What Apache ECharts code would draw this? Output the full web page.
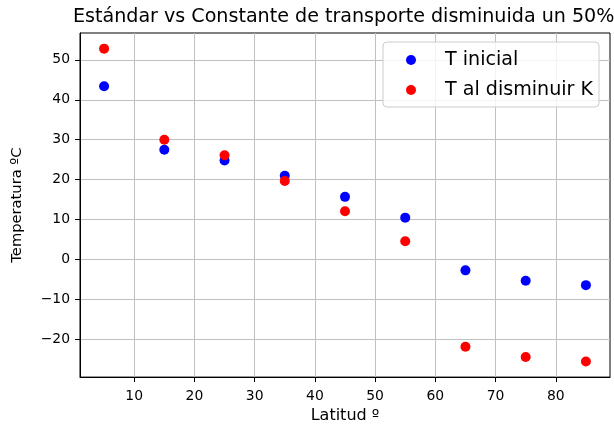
<!DOCTYPE html>
<html>
<head>
<meta charset="utf-8">
<script src="https://cdn.jsdelivr.net/npm/echarts@6/dist/echarts.min.js"></script>
<style>
html,body{margin:0;padding:0;background:#fff;}
#chart{width:614px;height:429px;}
</style>
</head>
<body>
<div id="chart"></div>
<script>
var latitudes = [5, 15, 25, 35, 45, 55, 65, 75, 85];
var tInicial = [43.4, 27.5, 24.8, 21.0, 15.7, 10.5, -2.7, -5.3, -6.4];
var tDisminuido = [52.8, 30.0, 26.1, 19.7, 12.1, 4.6, -21.8, -24.4, -25.5];
var xTicks = [10, 20, 30, 40, 50, 60, 70, 80];
var yTicks = [-20, -10, 0, 10, 20, 30, 40, 50];
var seriesNames = ['T inicial', 'T al disminuir K'];
var titleText = 'Estándar vs Constante de transporte disminuida un 50%';

function pad(arr) {
  var mn = Math.min.apply(null, arr), mx = Math.max.apply(null, arr);
  var m = (mx - mn) * 0.05;
  return [mn - m, mx + m];
}
var xr = pad(latitudes);
var yr = pad(tInicial.concat(tDisminuido));

function pairs(xs, ys) { return xs.map(function (x, i) { return [x, ys[i]]; }); }

var FONT = 'DejaVu Sans';
var chart = echarts.init(document.getElementById('chart'), null, {renderer: 'canvas'});
chart.setOption({
  animation: false,
  textStyle: {fontFamily: FONT},
  title: {
    text: titleText,
    left: 68,
    top: 3,
    padding: [5, 5, 5, 5],
    textStyle: {fontFamily: FONT, fontSize: 19.1, fontWeight: 'normal', color: '#000'}
  },
  grid: {left: 80, right: 4, top: 33, bottom: 51, show: true, borderColor: '#000', borderWidth: 1, backgroundColor: 'transparent'},
  legend: {
    orient: 'vertical',
    left: 383,
    top: 42,
    padding: [7, 6, 6, 23],
    itemGap: 8,
    itemWidth: 10,
    itemHeight: 10,
    icon: 'circle',
    backgroundColor: 'rgba(255,255,255,0.8)',
    borderColor: '#cccccc',
    borderWidth: 1,
    borderRadius: 4,
    formatter: function (name) { return '{g|}{n|' + name + '}'; },
    textStyle: {
      fontFamily: FONT, fontSize: 19.1, color: '#000', lineHeight: 22,
      rich: {
        g: {width: 24, height: 22},
        n: {fontFamily: FONT, fontSize: 19.1, color: '#000', lineHeight: 22}
      }
    },
    data: seriesNames
  },
  xAxis: {
    type: 'value',
    min: xr[0], max: xr[1],
    name: 'Latitud º',
    nameLocation: 'middle',
    nameGap: 30,
    nameTextStyle: {fontFamily: FONT, fontSize: 16, color: '#000'},
    axisLine: {show: true, onZero: false, lineStyle: {color: '#000', width: 1}},
    axisTick: {show: true, length: 5, customValues: xTicks, lineStyle: {color: '#000'}},
    axisLabel: {customValues: xTicks, margin: 12, fontFamily: FONT, fontSize: 13.9, color: '#000'},
    splitLine: {show: true, lineStyle: {color: '#c0c0c0', width: 1}}
  },
  yAxis: {
    type: 'value',
    min: yr[0], max: yr[1],
    name: 'Temperatura ºC',
    nameLocation: 'middle',
    nameGap: 55,
    nameTextStyle: {fontFamily: FONT, fontSize: 14.7, color: '#000'},
    axisLine: {show: true, onZero: false, lineStyle: {color: '#000', width: 1}},
    axisTick: {show: true, length: 5, customValues: yTicks, lineStyle: {color: '#000'}},
    axisLabel: {customValues: yTicks, margin: 10, fontFamily: FONT, fontSize: 13.9, color: '#000',
      formatter: function (v) { return String(v).replace('-', '\u2212'); }},
    splitLine: {show: true, lineStyle: {color: '#c0c0c0', width: 1}}
  },
  series: [
    {name: seriesNames[0], type: 'scatter', symbol: 'circle', symbolSize: 10,
     itemStyle: {color: '#0000ff', opacity: 1}, data: pairs(latitudes, tInicial)},
    {name: seriesNames[1], type: 'scatter', symbol: 'circle', symbolSize: 10,
     itemStyle: {color: '#ff0000', opacity: 1}, data: pairs(latitudes, tDisminuido)}
  ]
});
</script>
</body>
</html>
